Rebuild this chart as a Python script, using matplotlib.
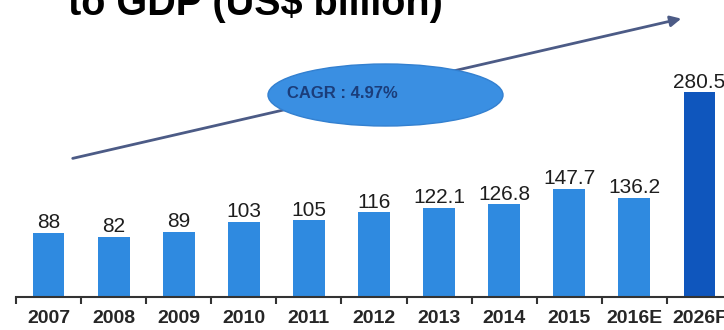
import numpy as np
import matplotlib
matplotlib.use("Agg")
import matplotlib.pyplot as plt
from matplotlib.patches import Ellipse, FancyArrowPatch

plt.rcParams["font.family"] = ["Liberation Sans", "DejaVu Sans"]

years = ["2007", "2008", "2009", "2010", "2011", "2012", "2013", "2014", "2015", "2016E", "2026F"]
values = [88, 82, 89, 103, 105, 116, 122.1, 126.8, 147.7, 136.2, 280.5]
labels = ["88", "82", "89", "103", "105", "116", "122.1", "126.8", "147.7", "136.2", "280.5"]
title = "to GDP (US$ billion)"
cagr = "CAGR : 4.97%"

W, H = 724, 330
fig = plt.figure(figsize=(W / 100, H / 100), dpi=100)

# axes: left boundary at px 16, baseline at px 297, ~0.73 px per unit
ax = fig.add_axes([16 / W, 33 / H, 716 / W, 0.73 * 300 / H])
x = np.arange(len(years))
colors = ["#2f8ae0"] * (len(years) - 1) + ["#0f56bd"]
ax.bar(x, values, width=0.49, color=colors, zorder=2)

for xi, v, lab in zip(x, values, labels):
    ax.annotate(lab, (xi, v), xytext=(0, 0.5), textcoords="offset points",
                ha="center", va="bottom", fontsize=15, color="#1e1e1e")

ax.set_xlim(-0.5, 10.5)
ax.set_ylim(0, 300)
ax.set_xticks(x)
ax.set_xticklabels(years, fontsize=14, fontweight="bold", color="#262626")
ax.set_xticks(np.arange(-0.5, 10.6, 1), minor=True)
ax.tick_params(axis="x", which="major", length=0, pad=9.5)
ax.tick_params(axis="x", which="minor", length=5, width=1.5, color="#333333")
ax.set_yticks([])
for s in ["left", "right", "top"]:
    ax.spines[s].set_visible(False)
ax.spines["bottom"].set_linewidth(1.5)
ax.spines["bottom"].set_color("#333333")
ax.patch.set_alpha(0)

# title (cut off at top in the original)
fig.text(68 / W, (H - 15) / H, title, fontsize=28.5, fontweight="bold",
         ha="left", va="baseline", color="black")

# trend arrow
arrow = FancyArrowPatch((70 / W, (H - 159) / H), (684 / W, (H - 18) / H),
                        transform=fig.transFigure, arrowstyle="-|>",
                        mutation_scale=16, linewidth=2, color="#4c5b86", zorder=1)
fig.add_artist(arrow)

# CAGR ellipse
ell = Ellipse((385.5 / W, (H - 95) / H), 235 / W, 62 / H, transform=fig.transFigure,
              facecolor="#3a8fe2", edgecolor="#3380d0", linewidth=1, zorder=3)
fig.add_artist(ell)
fig.text(287 / W, (H - 93) / H, cagr, fontsize=12, fontweight="bold",
         color="#1b3d7a", ha="left", va="center", zorder=4)

fig.savefig("out.png", dpi=100)
